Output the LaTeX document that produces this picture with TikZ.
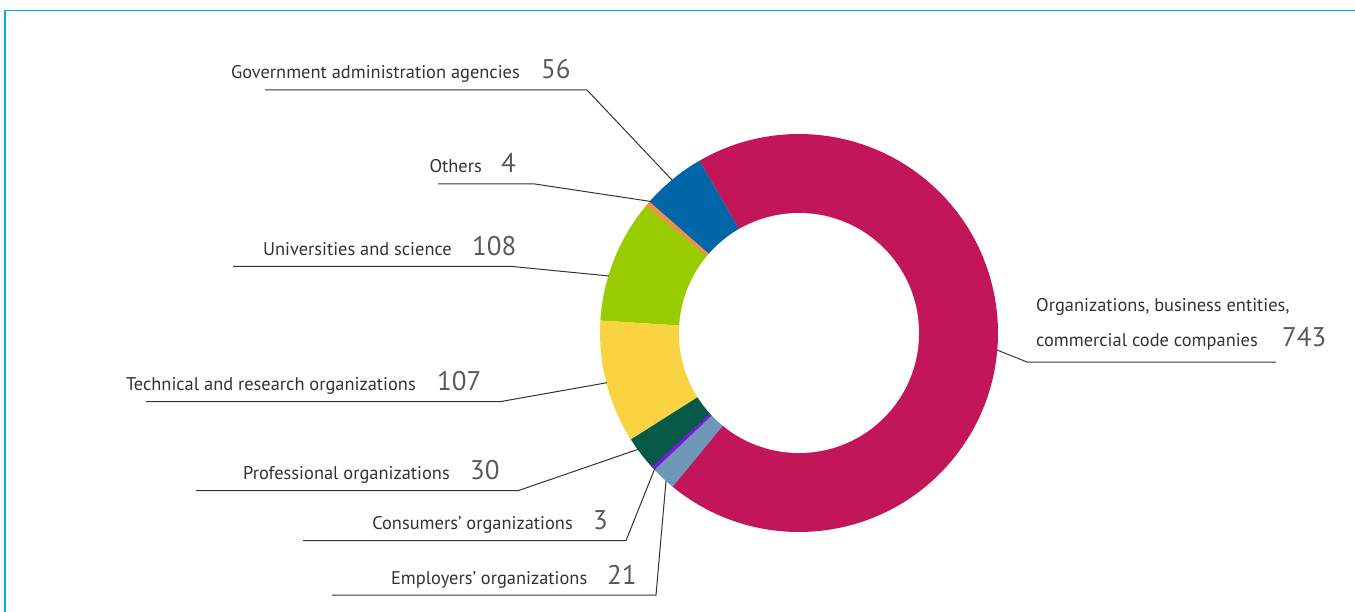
\documentclass[tikz,border=0pt]{standalone}
\usepackage{fontspec}
\setmainfont{PT Sans}
\usetikzlibrary{calc}
\definecolor{framecol}{HTML}{00AEEF}
\definecolor{txtgray}{HTML}{333333}
\definecolor{numgray}{HTML}{5A5A5A}
\definecolor{linegray}{HTML}{333333}
\definecolor{cmag}{HTML}{C3155A}
\definecolor{cblue}{HTML}{0066A8}
\definecolor{corange}{HTML}{EC914A}
\definecolor{cgreen}{HTML}{99CC00}
\definecolor{cyellow}{HTML}{F9D341}
\definecolor{cdkgreen}{HTML}{075A47}
\definecolor{cpurple}{HTML}{7B16E0}
\definecolor{cltblue}{HTML}{6F97B8}
\newcommand\donutslice[3]{\fill[#3] (c) -- ++(#1:199pt) arc[start angle=#1,end angle=#2,radius=199pt] -- cycle;}
\begin{document}
\begin{tikzpicture}[x=1pt,y=-1pt,
  lbl/.style={inner sep=0pt,font=\fontsize{18.4}{20}\selectfont,text=txtgray,anchor=base east},
  lblw/.style={inner sep=0pt,font=\fontsize{18.4}{20}\selectfont,text=txtgray,anchor=base west},
  num/.style={inner sep=0pt,font=\fontsize{27}{30}\selectfont,text=numgray,anchor=base west},
  leader/.style={draw=linegray,line width=1pt}]
\useasboundingbox (0,0) rectangle (1355,612);
\draw[framecol,line width=1.8pt] (4.8,612) -- (4.8,10.5) -- (1355,10.5);
% donut
\coordinate (c) at (799,333);
\donutslice{230.48}{480}{cmag}
\donutslice{120}{139.0}{cblue}
\donutslice{140.15}{176.42}{cgreen}
\donutslice{138.7}{140.25}{corange}
\donutslice{176.42}{212.35}{cyellow}
\donutslice{212.35}{222.43}{cdkgreen}
\donutslice{223.43}{230.6}{cltblue}
\donutslice{222.33}{223.43}{cpurple}
\fill[white] (c) circle[radius=120pt];
% Government
\coordinate (gA) at (265,90); \coordinate (gB) at (587,90); \coordinate (gC) at (672,180);
\draw[leader] (gA) -- (gB) -- (gC);
\node[lbl] (gT) at (520,79) {Government administration agencies};
\node[num] (gN) at (541,79) {56};
% Others
\coordinate (oA) at (438,184); \coordinate (oB) at (535,184); \coordinate (oC) at (651,201.5);
\draw[leader] (oA) -- (oB) -- (oC);
\node[lbl] (oT) at (482,173) {Others};
\node[num] (oN) at (501,173) {4};
% Universities
\coordinate (uA) at (233,266.5); \coordinate (uB) at (512.5,266.5); \coordinate (uC) at (609,276);
\draw[leader] (uA) -- (uB) -- (uC);
\node[lbl] (uT) at (452,255.5) {Universities and science};
\node[num] (uN) at (472,255.5) {108};
% Technical
\coordinate (tA) at (146,401.7); \coordinate (tB) at (500,401.7); \coordinate (tC) at (607,382.7);
\draw[leader] (tA) -- (tB) -- (tC);
\node[lbl] (tT) at (416,390.7) {Technical and research organizations};
\node[num] (tN) at (437,390.7) {107};
% Professional
\coordinate (pA) at (196,490.7); \coordinate (pB) at (518,490.7); \coordinate (pC) at (639,449);
\draw[leader] (pA) -- (pB) -- (pC);
\node[lbl] (pT) at (450,479.7) {Professional organizations};
\node[num] (pN) at (470,479.7) {30};
% Consumers
\coordinate (kA) at (303,540.7); \coordinate (kB) at (626,540.7); \coordinate (kC) at (655,468);
\draw[leader] (kA) -- (kB) -- (kC);
\node[lbl] (kT) at (573,529.7) {Consumers’ organizations};
\node[num] (kN) at (593,529.7) {3};
% Employers
\coordinate (eA) at (332,595); \coordinate (eB) at (656,595); \coordinate (eC) at (666,481);
\draw[leader] (eA) -- (eB) -- (eC);
\node[lbl] (eT) at (587.5,584) {Employers’ organizations};
\node[num] (eN) at (607,584) {21};
% Organizations (right)
\coordinate (rA) at (1276,362); \coordinate (rB) at (1027,362); \coordinate (rC) at (997,350);
\draw[leader] (rA) -- (rB) -- (rC);
\node[lblw] (rT1) at (1036,311.7) {Organizations, business entities,};
\node[lblw] (rT2) at (1036,346.7) {commercial code companies};
\node[num] (rN) at (1282,346.7) {743};
\end{tikzpicture}
\end{document}
